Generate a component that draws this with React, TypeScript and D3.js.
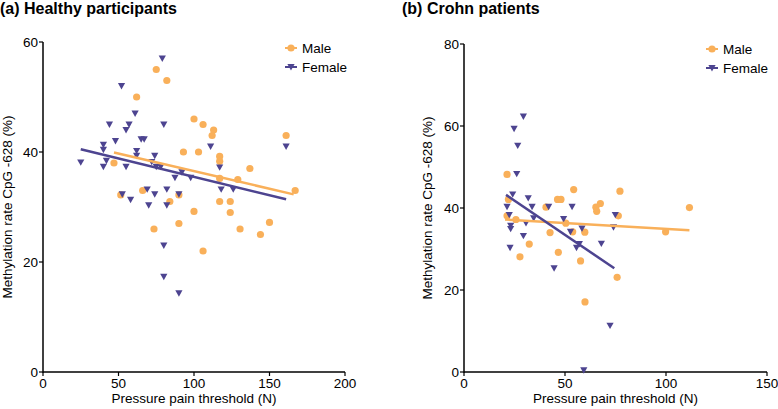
import React from 'react';
import * as d3 from 'd3';

type Pt = [number, number];

// Panel (a) Healthy participants
const maleA: Pt[] = [
  [75, 55], [82, 53], [62, 50], [100, 46], [106, 45], [113, 44], [112, 43], [93, 40], [103, 40],
  [47, 38], [117, 39.2], [161, 43], [117, 38.3], [137, 37], [117, 35.2], [129, 35], [167, 33],
  [117, 31], [124, 31], [51.5, 32.2], [66, 33], [84, 31], [90, 32.2], [124, 29], [100, 29.2],
  [90, 27], [73.5, 26], [130.5, 26], [150, 27.2], [144, 25], [106, 22],
];
const femaleA: Pt[] = [
  [79, 57], [52, 52], [61, 47], [44, 45], [57, 45], [55, 44], [80, 45], [48, 42], [65, 42.3], [67, 42.3],
  [111, 41], [40, 41.3], [40, 40.4], [62, 40.2], [62, 39.3], [25, 38.1], [42, 38.4], [40, 37.3], [55, 37.3],
  [74, 39.3], [72, 38.2], [75, 37.3], [78, 37.3], [92, 36.3], [87.4, 35.3], [97.8, 35.3], [69, 33.2],
  [82, 33.2], [52.5, 32.3], [74, 32.3], [90, 32.3], [58, 31.3], [70, 30.3], [82, 30.3], [161, 41],
  [117, 37.2], [118, 33.2], [126, 33.2], [80, 23], [80, 17.3], [90, 14.3],
];
const fitMaleA: Pt[] = [[47, 39.9], [166, 32.3]];
const fitFemaleA: Pt[] = [[25, 40.5], [161, 31.4]];
const xTicksA = [0, 50, 100, 150, 200];
const yTicksA = [0, 20, 40, 60];

// Panel (b) Crohn patients
const maleB: Pt[] = [
  [21.3, 48.2], [22, 42.1], [46.3, 42.1], [48, 42.1], [54.3, 44.5], [65.3, 40.2], [67.5, 41.1], [65.7, 39.2],
  [77.2, 44.1], [21.3, 38.1], [25.7, 37.2], [40.6, 40.2], [50.4, 36.3], [42.6, 34], [53.8, 34.2],
  [59.8, 34.1], [76.4, 38.1], [32.3, 31.2], [27.7, 28.1], [46.7, 29.2], [57.7, 27.1], [75.8, 23.1],
  [59.9, 17.1], [111.6, 40.1], [99.8, 34.2],
];
const femaleB: Pt[] = [
  [29.4, 62.3], [24.8, 59.3], [26.6, 55.2], [26.1, 48.3], [24.1, 43.3], [31.8, 42.4], [21.3, 40.3],
  [33.7, 40.3], [41.9, 40.3], [53.5, 40.3], [22.4, 38.3], [34.5, 37.5], [49.3, 37.3], [74.9, 38.3],
  [23.1, 35.7], [23.1, 34.9], [30.7, 36.3], [52.7, 34.2], [58.4, 35], [74, 35.3], [29.4, 33.2],
  [22.8, 30.3], [57.1, 31.2], [55.7, 30.3], [68, 31.3], [44.6, 25.3], [72.3, 11.3], [59.3, 0.4],
];
const fitMaleB: Pt[] = [[20.3, 37.2], [111.6, 34.6]];
const fitFemaleB: Pt[] = [[20.8, 43.2], [74.4, 25.3]];
const xTicksB = [0, 50, 100, 150];
const yTicksB = [0, 20, 40, 60, 80];

const seriesNames = ['Male', 'Female'];
const xTitle = 'Pressure pain threshold (N)';
const yTitle = 'Methylation rate CpG -628 (%)';

const ORANGE = '#f9b05a';
const PURPLE = '#4d4490';
const FONT = '"Liberation Sans", Arial, Helvetica, sans-serif';

const tri = (x: number, y: number) =>
  `M${x - 3.6},${y - 3}L${x + 3.6},${y - 3}L${x},${y + 3.4}Z`;

interface PanelProps {
  title: string;
  titleX: number;
  left: number;
  right: number;
  top: number;
  bottom: number;
  xMax: number;
  yMax: number;
  xTicks: number[];
  yTicks: number[];
  male: Pt[];
  female: Pt[];
  fitMale: Pt[];
  fitFemale: Pt[];
  legendX: number;
  legendY: number;
  yTitleX: number;
}

function Panel(p: PanelProps) {
  const x = d3.scaleLinear().domain([0, p.xMax]).range([p.left, p.right]);
  const y = d3.scaleLinear().domain([0, p.yMax]).range([p.bottom, p.top]);
  const line = d3.line<Pt>().x((d) => x(d[0])).y((d) => y(d[1]));
  const cy = (p.top + p.bottom) / 2;
  const cx = (p.left + p.right) / 2;
  return (
    <g fontFamily={FONT}>
      <text x={p.titleX} y={14} fontSize={16} fontWeight="bold" fill="#000">
        {p.title}
      </text>
      {/* axes */}
      <line x1={p.left} x2={p.left} y1={p.top} y2={p.bottom + 0.75} stroke="#000" strokeWidth={1.5} />
      <line x1={p.left} x2={p.right} y1={p.bottom} y2={p.bottom} stroke="#000" strokeWidth={1.5} />
      {p.yTicks.map((t) => (
        <g key={'y' + t}>
          <line x1={p.left - 4} x2={p.left} y1={y(t)} y2={y(t)} stroke="#000" strokeWidth={1.2} />
          <text x={p.left - 5} y={y(t) + 4.8} textAnchor="end" fontSize={13.5} fill="#000">
            {t}
          </text>
        </g>
      ))}
      {p.xTicks.map((t) => (
        <g key={'x' + t}>
          <line x1={x(t)} x2={x(t)} y1={p.bottom} y2={p.bottom + 4} stroke="#000" strokeWidth={1.2} />
          <text x={x(t)} y={p.bottom + 16} textAnchor="middle" fontSize={13.5} fill="#000">
            {t}
          </text>
        </g>
      ))}
      <text x={cx} y={p.bottom + 31} textAnchor="middle" fontSize={13.5} fill="#000">
        {xTitle}
      </text>
      <text
        transform={`translate(${p.yTitleX},${cy}) rotate(-90)`}
        textAnchor="middle"
        fontSize={13.5}
        fill="#000"
      >
        {yTitle}
      </text>
      {/* points */}
      {p.male.map((d, i) => (
        <circle key={'m' + i} cx={x(d[0])} cy={y(d[1])} r={3.6} fill={ORANGE} />
      ))}
      {p.female.map((d, i) => (
        <path key={'f' + i} d={tri(x(d[0]), y(d[1]))} fill={PURPLE} />
      ))}
      {/* fit lines */}
      <path d={line(p.fitMale) || ''} stroke={ORANGE} strokeWidth={2.5} fill="none" />
      <path d={line(p.fitFemale) || ''} stroke={PURPLE} strokeWidth={2.5} fill="none" />
      {/* legend */}
      <g>
        <line x1={p.legendX - 6} x2={p.legendX + 6} y1={p.legendY} y2={p.legendY} stroke={ORANGE} strokeWidth={2} />
        <circle cx={p.legendX} cy={p.legendY} r={3.6} fill={ORANGE} />
        <text x={p.legendX + 11} y={p.legendY + 4.8} fontSize={13.5} fill="#000">
          {seriesNames[0]}
        </text>
        <line x1={p.legendX - 6} x2={p.legendX + 6} y1={p.legendY + 19} y2={p.legendY + 19} stroke={PURPLE} strokeWidth={2} />
        <path d={tri(p.legendX, p.legendY + 19)} fill={PURPLE} />
        <text x={p.legendX + 11} y={p.legendY + 19 + 4.8} fontSize={13.5} fill="#000">
          {seriesNames[1]}
        </text>
      </g>
    </g>
  );
}

export default function App() {
  return (
    <svg
      width={778}
      height={409}
      style={{ position: 'absolute', left: 0, top: 0, background: '#fff' }}
    >
      <rect width={778} height={409} fill="#fff" />
      <Panel
        title="(a) Healthy participants"
        titleX={0}
        left={43}
        right={345}
        top={42}
        bottom={372}
        xMax={200}
        yMax={60}
        xTicks={xTicksA}
        yTicks={yTicksA}
        male={maleA}
        female={femaleA}
        fitMale={fitMaleA}
        fitFemale={fitFemaleA}
        legendX={291}
        legendY={48}
        yTitleX={12}
      />
      <Panel
        title="(b) Crohn patients"
        titleX={402}
        left={464}
        right={767}
        top={44}
        bottom={372}
        xMax={150}
        yMax={80}
        xTicks={xTicksB}
        yTicks={yTicksB}
        male={maleB}
        female={femaleB}
        fitMale={fitMaleB}
        fitFemale={fitFemaleB}
        legendX={712}
        legendY={49}
        yTitleX={432}
      />
    </svg>
  );
}
